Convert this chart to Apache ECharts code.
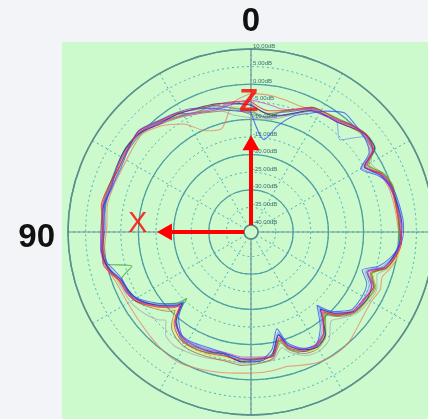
<!DOCTYPE html>
<html>
<head>
<meta charset="utf-8">
<script src="https://cdn.jsdelivr.net/npm/echarts@6/dist/echarts.min.js"></script>
<style>html,body{margin:0;padding:0;background:#f2f4f8;}#c{width:428px;height:419px;}</style>
</head>
<body>
<div id="c"></div>
<script>
// angle (degrees, counter-clockwise from top) shared by all measured curves
const angles = [0,8,16,24,32,40,48,56,64,72,80,88,96,102,106,110,116,121,128,134,136,140,146,152,160,168,176,184,190,195,198,204,210,216,222,226,232,240,246,251,255,260,266,272,280,288,294,300,304,310,316,322,328,334,340,346,352,360];
// gain in dB for each measured curve
const red = [-5.0,-4.6,-4.5,-3.8,-2.2,-1.0,0.9,0.2,-0.3,0.5,1.2,0.0,0.3,1.0,-0.2,-2.0,-2.6,-3.8,-7.5,-11.0,-13.0,-8.0,-5.6,-5.2,-5.4,-6.0,-5.6,-5.9,-6.2,-10.6,-7.4,-4.8,-4.8,-6.9,-11.5,-8.0,-5.4,-4.6,-3.8,-6.2,-2.4,-0.4,0.9,0.3,-0.2,0.2,-1.2,-4.9,-0.3,0.9,-0.1,-1.5,-2.1,-2.6,-4.8,-6.5,-7.2,-5.0];
const orange = [-2.6,-5.0,-11.5,-10.5,-5.8,-2.6,-0.4,-0.9,-1.2,-0.8,-0.5,-1.0,-0.2,0.2,-0.3,-1.0,-1.5,-1.6,-1.4,-1.0,-0.8,-0.4,0.2,0.3,-0.5,-1.2,-1.8,-2.0,-2.2,-2.4,-2.0,-0.9,0.0,0.2,-0.2,-1.0,-2.0,-2.5,-1.8,-2.6,-1.2,0.2,0.4,-0.2,-0.6,-0.9,-2.0,-3.8,-1.2,0.2,-0.8,-2.2,-2.8,-3.3,-3.6,-3.2,-2.8,-2.6];
const blue = [-8.0,-7.2,-5.5,-3.5,-2.0,-0.8,1.0,0.0,-0.8,-0.5,0.2,-0.5,0.4,-0.2,-1.8,-3.0,-3.2,-5.0,-9.0,-12.5,-14.5,-10.0,-6.8,-6.5,-7.0,-6.8,-5.8,-5.5,-8.0,-13.5,-9.0,-5.8,-5.0,-8.5,-14.0,-9.5,-6.0,-5.5,-6.0,-8.6,-4.5,-1.5,0.8,1.4,0.9,0.0,-2.5,-6.0,-1.5,0.0,0.5,1.0,-1.5,-4.5,-7.0,-11.0,-15.5,-8.0];
const navy = [-6.0,-5.0,-4.2,-3.6,-2.5,-1.8,0.2,0.8,0.4,-0.3,0.6,0.6,0.9,0.3,-0.8,-2.6,-3.5,-4.6,-8.2,-11.8,-13.8,-8.8,-6.5,-5.9,-6.1,-6.5,-5.0,-5.2,-6.8,-11.8,-8.2,-5.4,-4.2,-6.1,-12.5,-8.8,-5.2,-3.9,-4.5,-7.2,-3.0,-1.0,0.4,0.9,0.4,-0.5,-1.9,-4.8,0.4,0.8,-0.8,-2.3,-2.8,-3.6,-6.0,-7.8,-8.2,-6.0];
const green = [-7.8,-6.5,-4.6,-4.6,-3.2,-1.2,0.4,0.9,0.5,0.3,0.6,0.1,0.4,0.9,-6.8,-2.8,-3.4,-3.8,-8.8,-13.0,-15.8,-9.2,-6.0,-5.2,-5.6,-6.6,-5.9,-6.0,-6.2,-10.0,-7.0,-4.8,-4.4,-6.0,-11.0,-7.8,-4.8,-3.8,-3.6,-5.8,-2.2,-0.6,0.3,0.2,0.3,0.4,-0.8,-3.8,0.6,1.0,0.0,-1.3,-2.0,-2.6,-5.0,-6.8,-9.0,-7.8];
const yellow = [-7.5,-6.0,-5.6,-4.8,-3.0,-1.0,0.8,0.4,0.0,0.5,1.2,0.6,0.2,0.5,-0.2,-1.8,-3.4,-4.5,-7.0,-10.0,-11.5,-7.2,-5.8,-4.9,-5.0,-5.6,-5.4,-6.4,-6.6,-10.2,-7.6,-4.9,-3.8,-5.8,-11.2,-8.2,-4.6,-3.6,-3.4,-5.4,-2.0,0.0,0.9,0.4,-0.3,0.5,-1.0,-3.6,0.3,0.4,-0.9,-1.6,-2.2,-3.5,-5.2,-6.8,-7.8,-7.5];
const magenta = [-4.4,-4.8,-5.5,-4.8,-3.4,-1.6,0.5,0.4,0.3,-0.2,0.8,0.4,1.0,0.7,-0.4,-2.4,-2.8,-4.0,-7.8,-11.4,-13.2,-8.4,-6.4,-6.0,-6.4,-7.0,-6.4,-6.4,-6.0,-11.0,-8.2,-5.6,-5.2,-6.8,-12.0,-8.4,-5.0,-4.4,-4.6,-7.0,-3.0,-0.6,0.5,0.8,0.0,-0.4,-1.8,-4.2,0.0,0.5,-0.4,-2.0,-3.0,-3.2,-5.0,-6.0,-5.4,-4.4];
const purple = [-5.6,-5.3,-5.9,-4.9,-2.6,-1.5,0.4,0.6,0.2,0.4,0.8,0.2,0.6,0.4,-0.6,-2.1,-3.0,-4.3,-8.0,-11.5,-13.9,-8.6,-6.2,-5.5,-5.9,-6.1,-5.2,-5.8,-6.4,-11.6,-8.0,-5.2,-4.6,-6.6,-12.6,-8.6,-5.0,-4.4,-4.0,-6.9,-2.9,-0.9,0.6,0.7,0.2,-0.1,-1.6,-4.6,0.0,0.7,-0.3,-1.8,-2.6,-3.0,-5.4,-7.0,-8.0,-5.6];
const grey = [-9.5,-8.5,-5.8,-4.5,-3.4,-1.8,-0.2,0.0,-0.3,0.0,0.2,-0.2,0.2,0.0,-0.8,-1.6,-2.2,-2.5,-4.0,-6.0,-7.2,-4.2,-3.0,-3.4,-4.0,-4.8,-4.6,-4.8,-5.2,-8.0,-6.0,-3.6,-3.0,-4.2,-8.0,-6.6,-4.2,-3.0,-2.8,-4.2,-1.8,-0.4,0.3,0.2,-0.2,0.0,-1.2,-2.6,-0.6,0.4,-0.6,-1.6,-2.0,-2.8,-6.4,-8.6,-9.8,-9.5];
const brown = [-8.6,-7.0,-6.4,-5.2,-3.6,-2.0,0.2,0.3,-0.2,-0.1,0.4,0.0,0.3,0.2,-1.0,-2.4,-3.0,-3.8,-6.8,-9.6,-11.0,-6.8,-4.8,-4.2,-4.4,-4.6,-4.0,-4.6,-5.6,-9.4,-6.8,-4.2,-3.8,-5.8,-10.4,-7.4,-4.6,-3.6,-3.2,-5.6,-2.2,-0.6,0.4,0.4,-0.1,-0.4,-1.4,-3.4,-0.2,0.3,-0.8,-2.2,-2.8,-3.8,-6.4,-8.0,-9.0,-8.6];
const lightBlue = [-7.2,-6.4,-5.0,-3.9,-2.4,-1.2,0.8,0.2,-0.4,-0.6,0.4,0.0,0.8,0.4,-1.2,-2.8,-3.6,-4.8,-8.4,-12.0,-14.2,-9.0,-6.6,-6.2,-6.6,-6.6,-6.0,-6.2,-7.0,-12.4,-8.6,-5.6,-5.0,-7.6,-13.2,-9.0,-5.6,-4.8,-5.2,-7.8,-3.6,-1.2,0.2,1.0,0.6,-0.4,-2.0,-5.6,-0.8,0.2,-5.6,-2.4,-2.6,-3.4,-6.2,-8.0,-9.4,-7.2];

// radial axis range / ticks (dB) and outer angle labels
const radiusMin = -40, radiusMax = 10, radiusStep = 5;
const angleLabels = [0, 90];
// red axis annotation: shaft [dB, angle], arrow heads, letters
const axisShaft = [[-18.5, 0], [-41.98, 0], [-41.98, 90], [-19.5, 90]];
const headZ = [-16.6, 0], headX = [-17.4, 90];
const letterZ = [-5.2, 1], letterX = [-9.7, 86];

const curves = [
  ['grey', grey, '#a9a9a9'],
  ['brown', brown, '#9a6a48'],
  ['orange', orange, '#f0785a'],
  ['yellow', yellow, '#e4e42a'],
  ['green', green, '#2fa02f'],
  ['lightBlue', lightBlue, '#6a8cff'],
  ['purple', purple, '#7a3cc8'],
  ['navy', navy, '#1c1c8a'],
  ['magenta', magenta, '#e040d8'],
  ['blue', blue, '#2a48ff'],
  ['red', red, '#e8202a']
];

const chart = echarts.init(document.getElementById('c'), null, {renderer: 'canvas'});
const series = curves.map(([name, vals, color]) => ({
  name, type: 'line', coordinateSystem: 'polar', polarIndex: 0,
  data: angles.map((a, i) => [vals[i], a]),
  showSymbol: false, symbol: 'none', smooth: 0.25,
  lineStyle: {color, width: 1.05, opacity: 0.72},
  z: 3, silent: true
}));
series.push({
  type: 'line', coordinateSystem: 'polar', polarIndex: 0, data: axisShaft,
  symbol: 'none', lineStyle: {color: '#ff0000', width: 4, cap: 'butt', join: 'miter'}, z: 5, silent: true
});
series.push({
  type: 'scatter', coordinateSystem: 'polar', polarIndex: 0,
  data: [{value: headZ, symbolRotate: 0}, {value: headX, symbolRotate: 90}],
  symbol: 'triangle', symbolSize: [17, 15], itemStyle: {color: '#ff0000', opacity: 1}, z: 6, silent: true
});
series.push({
  type: 'scatter', coordinateSystem: 'polar', polarIndex: 0,
  data: [{value: letterZ, name: 'Z'}, {value: letterX, name: 'X', label: {fontWeight: 'normal', fontSize: 29}}],
  symbolSize: 2, itemStyle: {color: 'rgba(0,0,0,0)'}, z: 7, silent: true,
  label: {show: true, position: 'inside', formatter: p => p.name, color: '#ff0000', fontSize: 31, fontWeight: 'bold', fontFamily: 'Liberation Sans'}
});

const dotted = {color: '#48aebc', width: 1, type: [2, 3]};
const bigText = {fontSize: 33, fontWeight: 'bold', color: '#111', fontFamily: 'Liberation Sans'};
chart.setOption({
  backgroundColor: '#f2f4f8',
  textStyle: {fontFamily: 'Liberation Sans'},
  graphic: [{type: 'rect', shape: {x: 62, y: 42, width: 366, height: 377}, style: {fill: '#ccfacc'}, z: -100, silent: true}],
  polar: [
    {center: [251, 232], radius: [7, 183]},
    {center: [251, 232], radius: [7, 183]}
  ],
  angleAxis: [
    {polarIndex: 0, type: 'value', min: 0, max: 360, interval: 30, startAngle: 90, clockwise: false,
     axisLine: {show: false}, axisTick: {show: false}, axisLabel: {show: false},
     splitLine: {show: true, lineStyle: dotted}},
    {polarIndex: 1, type: 'value', min: 0, max: 360, interval: 90, startAngle: 90, clockwise: false,
     axisLine: {show: true, lineStyle: {color: '#5f8f8c', width: 1.5}}, axisTick: {show: false},
     axisLabel: {show: true, margin: 11, ...bigText,
       formatter: v => !angleLabels.includes(v) ? '' : (v === 90 ? '{side|' + v + '}' : '{top|' + v + '}'),
       rich: {side: {...bigText, padding: [12, 2, 0, 0]}, top: {...bigText}}},
     splitLine: {show: true, lineStyle: {color: '#6a9896', width: 1.2}}}
  ],
  radiusAxis: [
    {polarIndex: 0, type: 'value', min: radiusMin, max: radiusMax, interval: radiusStep,
     axisLine: {show: false}, axisTick: {show: false},
     axisLabel: {show: true, fontSize: 6, color: '#3d6e72', margin: -2, align: 'left', verticalAlign: 'bottom',
       formatter: v => v.toFixed(2) + 'dB'},
     splitLine: {show: true, lineStyle: dotted}},
    {polarIndex: 1, type: 'value', min: radiusMin, max: radiusMax, interval: radiusStep * 2,
     axisLine: {show: false}, axisTick: {show: false}, axisLabel: {show: false},
     splitLine: {show: true, lineStyle: {color: '#4f9ea2', width: 1.3}}}
  ],
  series
});
</script>
</body>
</html>
